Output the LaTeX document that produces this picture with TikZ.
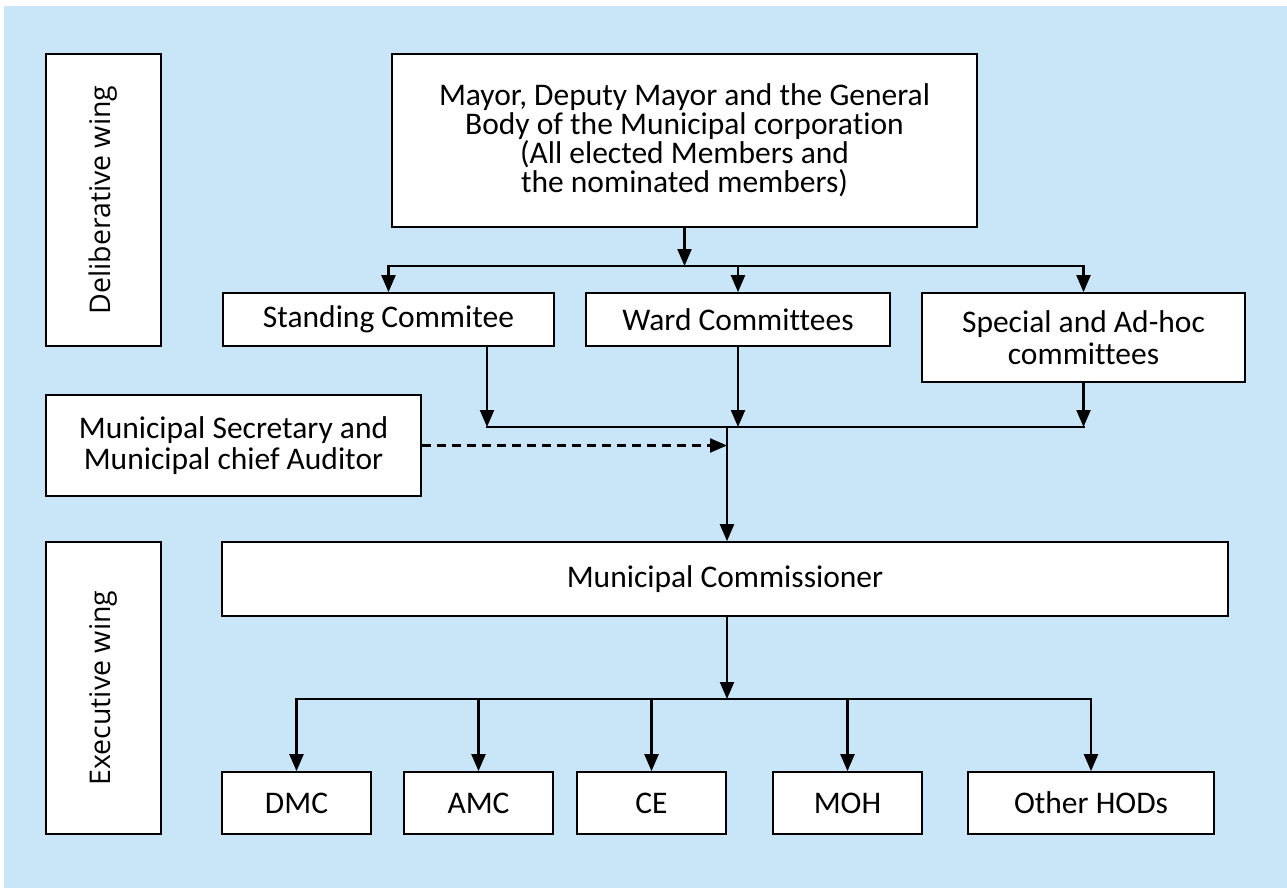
\documentclass[tikz,border=0pt]{standalone}
\usepackage{fontspec}
\setmainfont{Carlito}[Ligatures=NoCommon]
\newfontfamily\wingfont{Open Sans}
\usetikzlibrary{arrows.meta}
\definecolor{bgblue}{HTML}{C8E6F7}

\begin{document}
\begin{tikzpicture}[
  x=1pt,y=-1pt,
  font={\fontsize{31.5}{31.5}\selectfont\lineskiplimit=-40pt},
  box/.style={draw,line width=1.7pt,fill=white,align=center,inner sep=0pt},
  wing/.style={box,rotate=90,minimum width=292pt,minimum height=115pt,
    font={\wingfont\fontsize{28.5}{30}\selectfont}},
  hod/.style={box,minimum width=149pt,minimum height=62pt},
  arr/.style={-{Triangle[length=17pt,width=14pt]},line width=2.2pt},
  bar/.style={line width=2.2pt,line cap=rect},
  dasharr/.style={arr,dash pattern=on 9pt off 6pt}
]
  \useasboundingbox (0,0) rectangle (1287,888);
  \fill[bgblue] (4,6) rectangle (1287,888);

  \node[box,minimum width=585pt,minimum height=173pt,font={\fontsize{31.5}{29}\selectfont\lineskiplimit=-40pt}] (mayor) at (684.5,140.5)
    {Mayor, Deputy Mayor and the General\\Body of the Municipal corporation\\(All elected Members and\\the nominated members)};
  \node[wing] (delib) at (103.5,200) {Deliberative wing};
  \node[box,minimum width=331pt,minimum height=53pt] (stand) at (388.5,319.5) {Standing Commitee};
  \node[box,minimum width=304pt,minimum height=53pt] (ward) at (738,319.5) {Ward Committees};
  \node[box,minimum width=323pt,minimum height=89pt] (special) at (1083.5,337.5) {Special and Ad-hoc\\committees};
  \node[box,minimum width=375pt,minimum height=101pt] (secr) at (233.5,445.5) {Municipal Secretary and\\Municipal chief Auditor};
  \node[wing] (exec) at (103.5,688) {Executive wing};
  \node[box,minimum width=1006pt,minimum height=74pt] (comm) at (725,579) {Municipal Commissioner};
  \node[hod] (dmc) at (296.5,803) {DMC};
  \node[hod] (amc) at (478.5,803) {AMC};
  \node[hod] (ce) at (651.5,803) {CE};
  \node[hod] (moh) at (847.5,803) {MOH};
  \node[hod,minimum width=246pt] (hods) at (1091,803) {Other HODs};

  \coordinate (topbar) at (685,266);
  \coordinate (midbar) at (727,427);
  \coordinate (standout) at (487,427);
  \coordinate (lowbar) at (727,699);

  \draw[arr] (mayor.south) -- (mayor.south |- topbar);
  \draw[bar] (stand.north |- topbar) -- (special.north |- topbar);
  \foreach \n in {stand,ward,special}
    \draw[arr] (\n.north |- topbar) -- (\n.north);

  \draw[arr] (stand.south -| standout) -- (standout);
  \draw[arr] (ward.south) -- (ward.south |- midbar);
  \draw[arr] (special.south) -- (special.south |- midbar);
  \draw[bar] (standout) -- (special.south |- midbar);
  \draw[dasharr] (secr.east) -- (secr.east -| midbar);
  \draw[arr] (midbar) -- (comm.north -| midbar);

  \draw[arr] (comm.south -| lowbar) -- (lowbar);
  \draw[bar] (dmc.north |- lowbar) -- (hods.north |- lowbar);
  \foreach \n in {dmc,amc,ce,moh,hods}
    \draw[arr] (\n.north |- lowbar) -- (\n.north);
\end{tikzpicture}
\end{document}
